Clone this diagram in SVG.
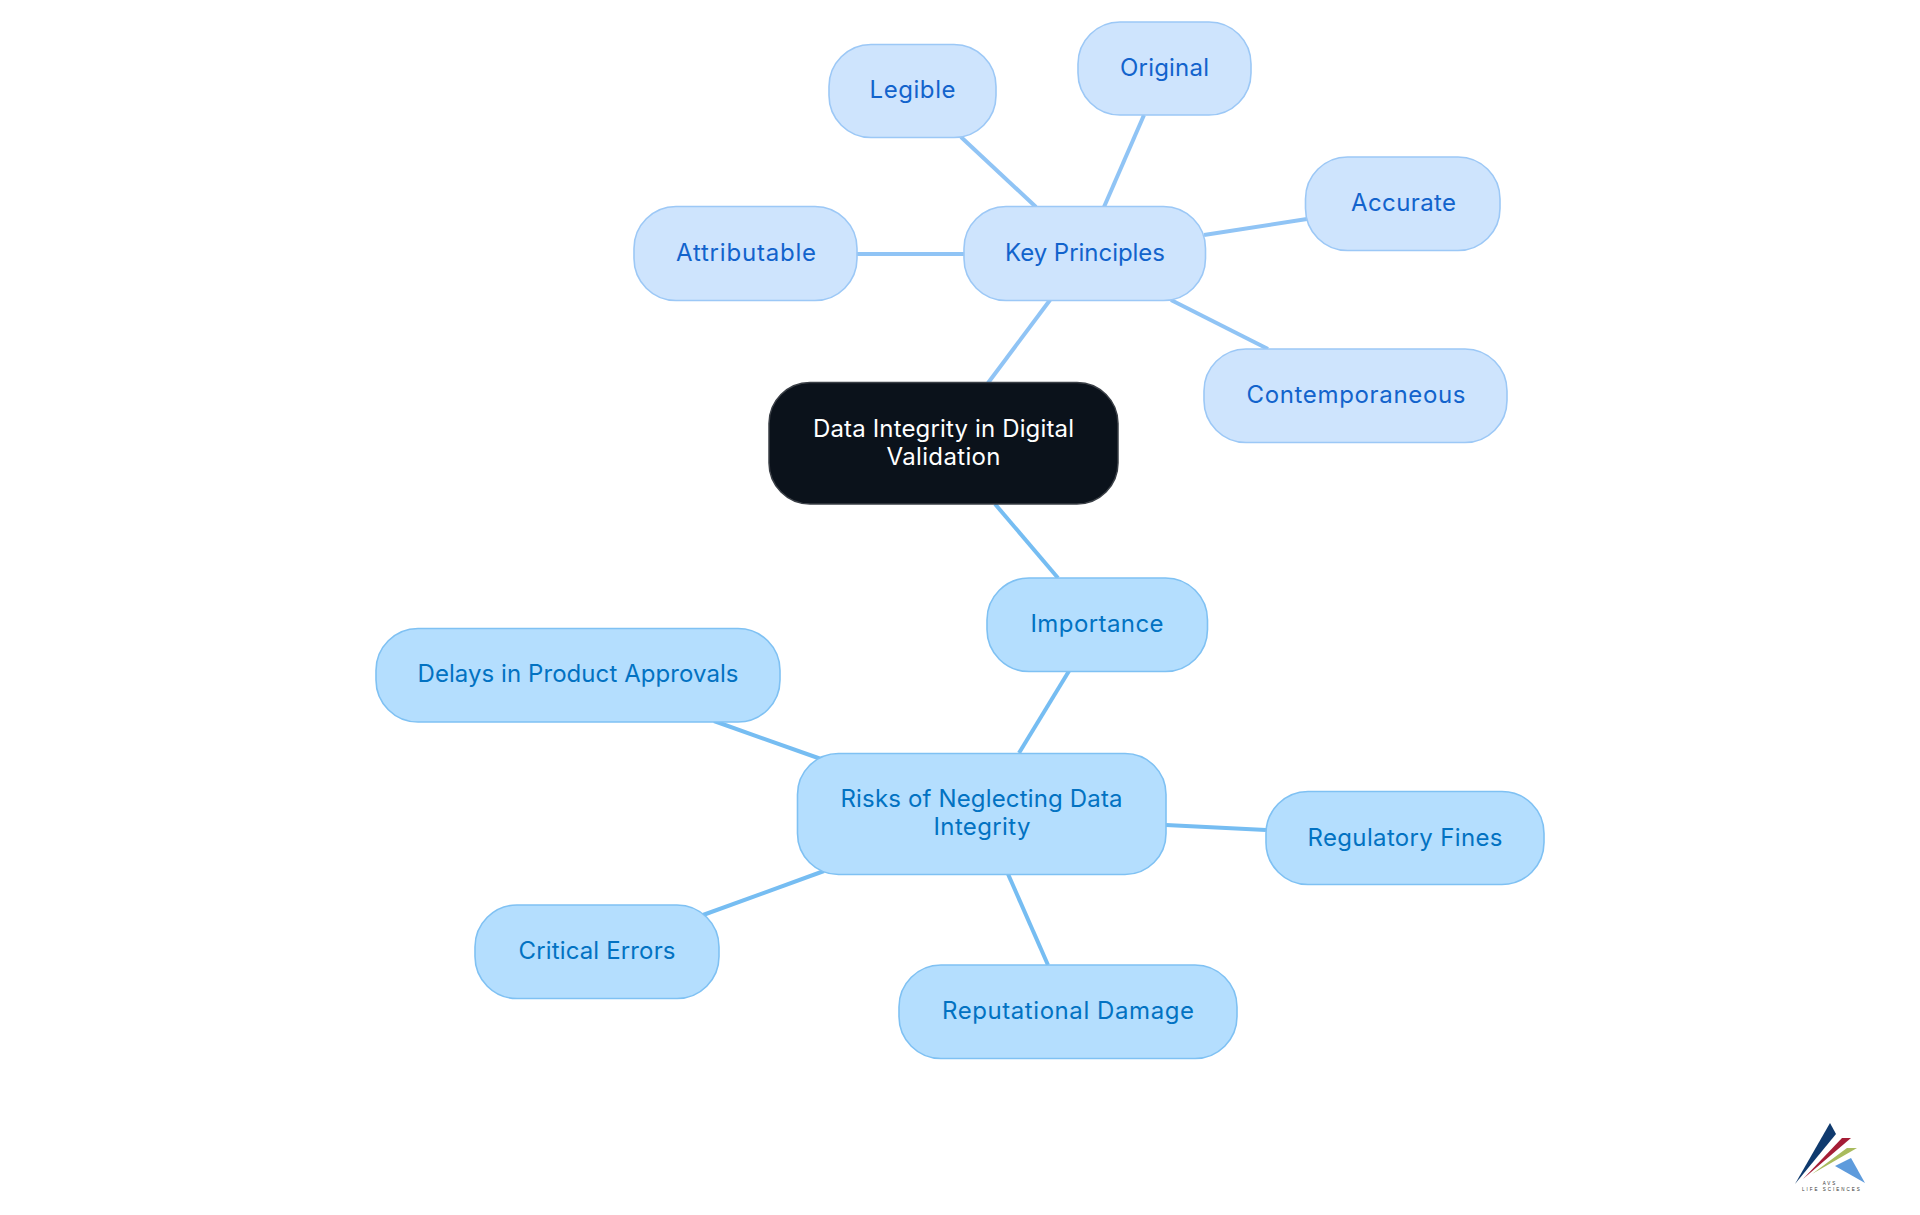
<svg xmlns="http://www.w3.org/2000/svg" width="1920" height="1215" viewBox="0 0 1920 1215">
<style>
.c1{stroke:#90c4f5;stroke-width:4;fill:none}
.c2{stroke:#76bdf2;stroke-width:4;fill:none}
.t{font-family:"Inter","Noto Sans",sans-serif;font-size:24px;text-anchor:middle;font-weight:400}
.a rect{fill:#cee4fd;stroke:#9cc8f6;stroke-width:1.6}
.a text{fill:#1263cc}
.b rect{fill:#b4defe;stroke:#7fc1f3;stroke-width:1.6}
.b text{fill:#0272c2}
.l{font-family:"Liberation Sans",sans-serif;font-size:4.500px;fill:#333;text-anchor:middle;letter-spacing:2px}
</style>
<rect width="1920" height="1215" fill="#fff"/>
<g id="connectors">
<path class="c1" d="M1050 300L988 383"/>
<path class="c1" d="M857 254H964"/>
<path class="c1" d="M961 137L1036 207"/>
<path class="c1" d="M1144 115L1104 207"/>
<path class="c1" d="M1204 235L1307 219"/>
<path class="c1" d="M1171 300L1268 349"/>
<path class="c2" d="M995 504L1058 578"/>
<path class="c2" d="M1069 671L1019 753"/>
<path class="c2" d="M714 721L821 759"/>
<path class="c2" d="M1166 825L1266 830"/>
<path class="c2" d="M703 915L824 871"/>
<path class="c2" d="M1008 874L1048 965"/>
</g>
<g id="root"><rect x="769" y="382.500" width="349" height="121.500" rx="41" fill="#0b121b" stroke="#3a3f46" stroke-width="1.500"/><text class="t" fill="#fff" x="943.500" y="437" textLength="261" lengthAdjust="spacing">Data Integrity in Digital</text><text class="t" fill="#fff" x="943.500" y="465" textLength="114" lengthAdjust="spacing">Validation</text></g>
<g id="key-principles" class="a"><rect x="964" y="206.500" width="241.500" height="94" rx="42"/><text class="t" x="1085" y="260.500" textLength="160" lengthAdjust="spacing">Key Principles</text></g>
<g id="attributable" class="a"><rect x="634" y="206.500" width="223" height="94" rx="42"/><text class="t" x="746" y="260.500" textLength="140" lengthAdjust="spacing">Attributable</text></g>
<g id="legible" class="a"><rect x="829" y="44.500" width="167" height="93" rx="42"/><text class="t" x="912.500" y="98" textLength="86" lengthAdjust="spacing">Legible</text></g>
<g id="original" class="a"><rect x="1078" y="22" width="173" height="93" rx="42"/><text class="t" x="1164.500" y="76" textLength="89" lengthAdjust="spacing">Original</text></g>
<g id="accurate" class="a"><rect x="1305.500" y="157" width="194.500" height="93.500" rx="42"/><text class="t" x="1403.500" y="211" textLength="105" lengthAdjust="spacing">Accurate</text></g>
<g id="contemporaneous" class="a"><rect x="1204" y="349" width="303" height="93.500" rx="42"/><text class="t" x="1356" y="403" textLength="219" lengthAdjust="spacing">Contemporaneous</text></g>
<g id="importance" class="b"><rect x="987" y="578" width="220.500" height="93.500" rx="42"/><text class="t" x="1097" y="632" textLength="133" lengthAdjust="spacing">Importance</text></g>
<g id="delays" class="b"><rect x="376" y="628.500" width="404" height="93.500" rx="42"/><text class="t" x="578" y="682" textLength="321" lengthAdjust="spacing">Delays in Product Approvals</text></g>
<g id="risks" class="b"><rect x="797.500" y="753.500" width="368.500" height="121" rx="41"/><text class="t" x="981.500" y="807" textLength="282" lengthAdjust="spacing">Risks of Neglecting Data</text><text class="t" x="982" y="835" textLength="97" lengthAdjust="spacing">Integrity</text></g>
<g id="regulatory" class="b"><rect x="1266" y="791.500" width="278" height="93" rx="42"/><text class="t" x="1405" y="846" textLength="195" lengthAdjust="spacing">Regulatory Fines</text></g>
<g id="critical" class="b"><rect x="475" y="905" width="244" height="93.500" rx="42"/><text class="t" x="597" y="959" textLength="157" lengthAdjust="spacing">Critical Errors</text></g>
<g id="reputational" class="b"><rect x="899" y="965" width="338" height="93.500" rx="42"/><text class="t" x="1068" y="1019" textLength="252" lengthAdjust="spacing">Reputational Damage</text></g>
<g id="logo">
<polygon points="1795,1184 1830,1123 1836,1134" fill="#0f3a6e"/>
<polygon points="1803,1179 1842,1138 1851,1138" fill="#a51d36"/>
<polygon points="1812,1174 1847,1148 1857,1148" fill="#a9bb5e"/>
<polygon points="1835,1166 1851,1158 1865,1183" fill="#5e9bdc"/>
<text class="l" x="1830" y="1184.500">AVS</text>
<text class="l" x="1832" y="1191">LIFE SCIENCES</text>
</g>
</svg>
